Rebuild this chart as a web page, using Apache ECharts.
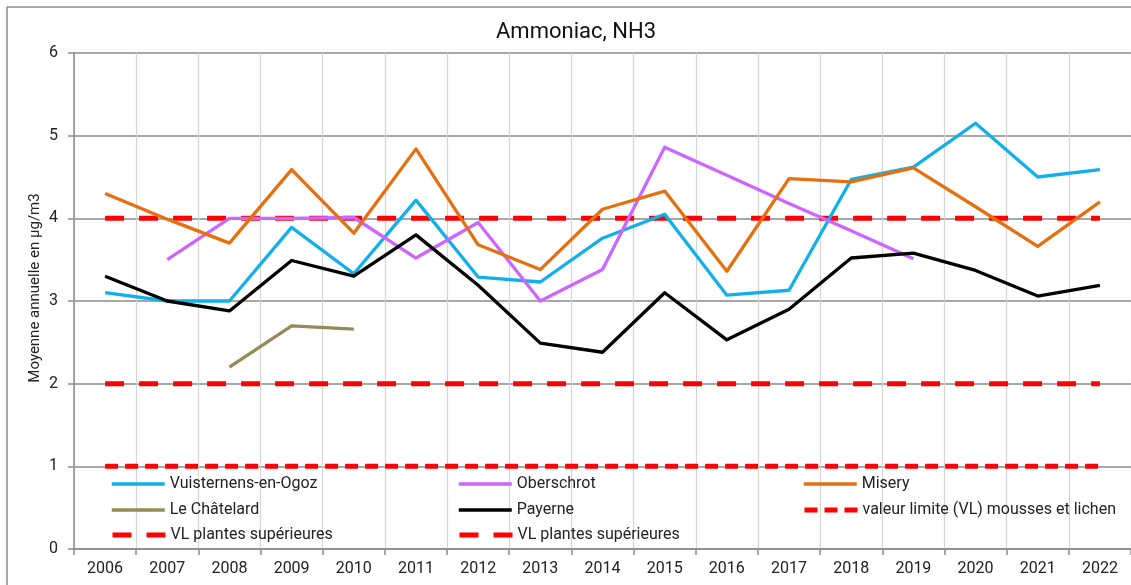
<!DOCTYPE html>
<html>
<head>
<meta charset="utf-8">
<script src="https://cdn.jsdelivr.net/npm/echarts@6/dist/echarts.min.js"></script>
<style>
html,body{margin:0;padding:0;background:#fff;}
#c{width:1131px;height:585px;}
</style>
</head>
<body>
<div id="c"></div>
<script>
const years = ['2006','2007','2008','2009','2010','2011','2012','2013','2014','2015','2016','2017','2018','2019','2020','2021','2022'];
const vuisternens = [3.10, 3.00, 3.00, 3.89, 3.33, 4.22, 3.29, 3.23, 3.76, 4.05, 3.07, 3.13, 4.47, 4.62, 5.15, 4.50, 4.59];
const oberschrot = [null, 3.50, 4.00, 4.00, 4.01, 3.52, 3.95, 3.00, 3.38, 4.86, 4.52, 4.18, 3.85, 3.51, null, null, null];
const misery = [4.30, 3.99, 3.70, 4.59, 3.82, 4.84, 3.68, 3.38, 4.11, 4.33, 3.36, 4.48, 4.44, 4.61, 4.14, 3.66, 4.20];
const chatelard = [null, null, 2.20, 2.70, 2.66, null, null, null, null, null, null, null, null, null, null, null, null];
const payerne = [3.30, 3.00, 2.88, 3.49, 3.30, 3.80, 3.19, 2.49, 2.38, 3.10, 2.53, 2.90, 3.52, 3.58, 3.37, 3.06, 3.19];
const vlMousses = [1,1,1,1,1,1,1,1,1,1,1,1,1,1,1,1,1];
const vlPlantes2 = [2,2,2,2,2,2,2,2,2,2,2,2,2,2,2,2,2];
const vlPlantes4 = [4,4,4,4,4,4,4,4,4,4,4,4,4,4,4,4,4];
const yTicks = [0,1,2,3,4,5,6];

const FONT = 'Roboto';
const chart = echarts.init(document.getElementById('c'), null, {renderer:'canvas'});

const DASH_SHORT = [13, 7];
const DASH_LONG = [19, 15];

function lineSeries(name, data, color, width, dash) {
  return {
    name: name, type: 'line', data: data, symbol: 'none', showSymbol: false, connectNulls: false,
    lineStyle: {color: color, width: width, type: dash || 'solid', cap: 'butt', join: 'round'},
    itemStyle: {color: color}, animation: false, silent: true
  };
}
function leg(name, left, top, color, width, dash) {
  return {
    data: [name], left: left, top: top, itemWidth: 53, itemHeight: 14, itemGap: 0,
    padding: 0,
    itemStyle: {opacity: 0},
    lineStyle: {color: color, width: width, type: dash || 'solid', cap: 'butt'},
    textStyle: {fontFamily: FONT, fontSize: 16, color: '#222'},
    selectedMode: false
  };
}

const option = {
  animation: false,
  backgroundColor: '#fff',
  title: {
    text: 'Ammoniac, NH3', left: 571, top: 16, textAlign: 'center',
    textStyle: {fontFamily: FONT, fontSize: 22, fontWeight: 'normal', color: '#111'}
  },
  graphic: [
    {type: 'line', shape: {x1: 7, y1: 7, x2: 1131, y2: 7}, style: {stroke: '#8a8a8a', lineWidth: 1.5}, silent: true},
    {type: 'line', shape: {x1: 7, y1: 7, x2: 7, y2: 585}, style: {stroke: '#8a8a8a', lineWidth: 1.5}, silent: true}
  ],
  grid: {left: 74, top: 53, width: 1061, height: 496, containLabel: false},
  legend: [
    leg('Vuisternens-en-Ogoz', 110, 476, '#12b0ea', 3.5),
    leg('Oberschrot', 457, 476, '#cc66ff', 3.5),
    leg('Misery', 802, 476, '#e4700f', 3.5),
    leg('Le Châtelard', 110, 502, '#968b56', 3.5),
    leg('Payerne', 457, 502, '#000000', 3.5),
    leg('valeur limite (VL) mousses et lichen', 802, 502, '#ff0000', 5, DASH_SHORT),
    leg('VL plantes supérieures', 110, 527, '#ff0000', 5, DASH_LONG),
    leg('VL plantes supérieures ', 457, 527, '#ff0000', 5, DASH_LONG)
  ],
  xAxis: {
    type: 'category', data: years, boundaryGap: true,
    axisLine: {show: true, lineStyle: {color: '#8a8a8a', width: 1.5}},
    axisTick: {show: true, alignWithLabel: false, length: 6, lineStyle: {color: '#8a8a8a', width: 1.5}},
    axisLabel: {fontFamily: FONT, fontSize: 16, color: '#222', margin: 12},
    splitLine: {show: true, lineStyle: {color: '#d4d4d4', width: 1.2}}
  },
  yAxis: {
    type: 'value', min: 0, max: 6, interval: 1,
    name: 'Moyenne annuelle en µg/m3', nameLocation: 'middle', nameGap: 31, nameRotate: 90,
    nameMoveOverlap: false,
    nameTextStyle: {fontFamily: FONT, fontSize: 15, color: '#222', padding: [0, 0, 0, 26]},
    axisLine: {show: true, lineStyle: {color: '#8a8a8a', width: 1.5}},
    axisTick: {show: true, length: 6, lineStyle: {color: '#8a8a8a', width: 1.5}},
    axisLabel: {fontFamily: FONT, fontSize: 16, color: '#222', margin: 16,
      formatter: function(v){ return yTicks.indexOf(v) >= 0 ? String(v) : ''; }},
    splitLine: {show: true, lineStyle: {color: '#8a8a8a', width: 1.5}}
  },
  series: [
    lineSeries('valeur limite (VL) mousses et lichen', vlMousses, '#ff0000', 5, DASH_SHORT),
    lineSeries('VL plantes supérieures', vlPlantes2, '#ff0000', 5, DASH_LONG),
    lineSeries('VL plantes supérieures ', vlPlantes4, '#ff0000', 5, DASH_LONG),
    lineSeries('Vuisternens-en-Ogoz', vuisternens, '#12b0ea', 3.3),
    lineSeries('Le Châtelard', chatelard, '#968b56', 3.3),
    lineSeries('Oberschrot', oberschrot, '#cc66ff', 3.3),
    lineSeries('Misery', misery, '#e4700f', 3.3),
    lineSeries('Payerne', payerne, '#000000', 3.3)
  ]
};
chart.setOption(option);
</script>
</body>
</html>
